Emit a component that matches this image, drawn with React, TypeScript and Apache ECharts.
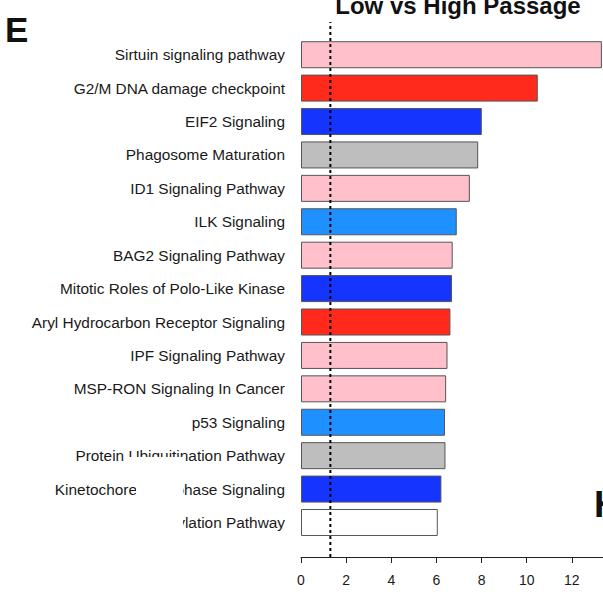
import React, { useEffect, useRef } from "react";
import * as echarts from "echarts";

const categories = [
  "Sirtuin signaling pathway",
  "G2/M DNA damage checkpoint",
  "EIF2 Signaling",
  "Phagosome Maturation",
  "ID1 Signaling Pathway",
  "ILK Signaling",
  "BAG2 Signaling Pathway",
  "Mitotic Roles of Polo-Like Kinase",
  "Aryl Hydrocarbon Receptor Signaling",
  "IPF Signaling Pathway",
  "MSP-RON Signaling In Cancer",
  "p53 Signaling",
  "Protein Ubiquitination Pathway",
  "Kinetochore Metaphase Signaling",
  "Sumoylation Pathway",
];
const values = [13.33, 10.49, 8.01, 7.85, 7.48, 6.9, 6.72, 6.69, 6.62, 6.49, 6.43, 6.38, 6.4, 6.22, 6.06];
const barColors = [
  "#FFC0CB", "#FF2A1C", "#1535FF", "#BEBEBE", "#FFC0CB",
  "#1E90FF", "#FFC0CB", "#1535FF", "#FF2A1C", "#FFC0CB",
  "#FFC0CB", "#1E90FF", "#BEBEBE", "#1535FF", "#FFFFFF",
];
const xTicks = [0, 2, 4, 6, 8, 10, 12, 14];
const threshold = 1.301;
const title = "Low vs High Passage";
const font = "'Liberation Sans', Arial, sans-serif";

export default function App() {
  const ref = useRef<HTMLDivElement>(null);
  useEffect(() => {
    const chart = echarts.init(ref.current!, null, { renderer: "svg" });
    chart.setOption({
      animation: false,
      backgroundColor: "#fff",
      grid: [
        { left: 301, width: 316, top: 38, height: 501.2, containLabel: false },
        { left: 301, width: 316, top: 22, height: 535, containLabel: false },
      ],
      xAxis: [
        { type: "value", gridIndex: 0, min: xTicks[0], max: xTicks[xTicks.length - 1], interval: 2, show: false },
        {
          type: "value",
          gridIndex: 1,
          min: xTicks[0],
          max: xTicks[xTicks.length - 1],
          interval: 2,
          position: "bottom",
          axisLine: { show: true, lineStyle: { color: "#222", width: 1 } },
          axisTick: { show: true, length: 6, lineStyle: { color: "#222" } },
          axisLabel: { margin: 16, fontSize: 14, color: "#1a1a1a", fontFamily: font, showMaxLabel: false },
          splitLine: { show: false },
        },
      ],
      yAxis: [
        {
          type: "category",
          gridIndex: 0,
          data: categories,
          inverse: true,
          axisLine: { show: false },
          axisTick: { show: false },
          axisLabel: { margin: 16, fontSize: 15.4, color: "#1a1a1a", fontFamily: font },
        },
        { type: "value", gridIndex: 1, min: 0, max: 1, show: false },
      ],
      series: [
        {
          type: "bar",
          xAxisIndex: 0,
          yAxisIndex: 0,
          barWidth: 27,
          data: values.map((v, i) => ({
            value: v,
            itemStyle: { color: barColors[i], borderColor: "#555", borderWidth: 1 },
          })),
        },
        {
          type: "line",
          xAxisIndex: 1,
          yAxisIndex: 1,
          symbol: "none",
          data: [[threshold, 0], [threshold, 1]],
          lineStyle: { color: "#000", width: 2, type: [3, 3] },
          z: 5,
        },
      ],
      graphic: [
        {
          type: "text",
          x: 458,
          y: 17,
          style: {
            text: title,
            fontSize: 24,
            fontWeight: "bold",
            fontFamily: font,
            fill: "#111",
            textAlign: "center",
            textVerticalAlign: "bottom",
          },
        },
        {
          type: "text",
          x: 5,
          y: 12,
          style: { text: "E", fontSize: 35, fontWeight: "bold", fontFamily: font, fill: "#111" },
        },
        {
          type: "text",
          x: 594,
          y: 486,
          style: { text: "H", fontSize: 37, fontWeight: "bold", fontFamily: font, fill: "#111" },
        },
        {
          type: "polygon",
          z: 100,
          shape: { points: [[127, 457], [183, 457], [183, 542], [136, 542], [136, 468], [127, 468]] },
          style: { fill: "#fff" },
        },
      ],
    });
    return () => chart.dispose();
  }, []);
  return (
    <div style={{ position: "absolute", left: 0, top: 0, width: 603, height: 592, overflow: "hidden" }}>
      <div ref={ref} style={{ width: 640, height: 592 }} />
    </div>
  );
}
